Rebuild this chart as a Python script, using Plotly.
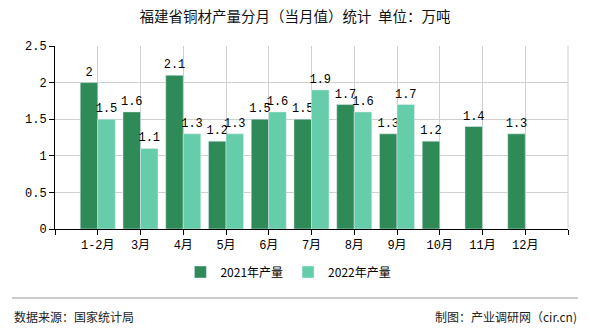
import plotly.graph_objects as go

months = ["1-2月", "3月", "4月", "5月", "6月", "7月", "8月", "9月", "10月", "11月", "12月"]
prod_2021 = [2, 1.6, 2.1, 1.2, 1.5, 1.5, 1.7, 1.3, 1.2, 1.4, 1.3]
prod_2022 = [1.5, 1.1, 1.3, 1.3, 1.6, 1.9, 1.6, 1.7, None, None, None]
series_names = ["2021年产量", "2022年产量"]
title_text = "福建省铜材产量分月（当月值）统计  单位：万吨"
source_text = "数据来源：国家统计局"
credit_text = "制图：产业调研网（cir.cn)"

xs = list(range(len(months)))
mono = "Liberation Mono, Noto Sans CJK SC, monospace"

def lbl(v):
    if v is None:
        return ""
    return ("%g" % v)

fig = go.Figure()
fig.add_trace(go.Bar(
    x=xs, y=prod_2021, name=series_names[0], marker_color="#2E8B57",
    text=[lbl(v) for v in prod_2021], textposition="outside", constraintext="none",
    textfont=dict(family=mono, size=12, color="#000"), cliponaxis=False,
))
fig.add_trace(go.Bar(
    x=xs, y=prod_2022, name=series_names[1], marker_color="#66CDAA",
    text=[lbl(v) for v in prod_2022], textposition="outside", constraintext="none",
    textfont=dict(family=mono, size=12, color="#000"), cliponaxis=False,
))

W, H = 590, 330
L, R, T, B = 55, 568, 46, 229
pw, ph = R - L, B - T

def px(x):
    return (x - L) / pw

def py(y):
    return (B - y) / ph

fig.update_layout(
    width=W, height=H,
    margin=dict(l=L, r=W - R, t=T, b=H - B),
    paper_bgcolor="white", plot_bgcolor="white",
    barmode="group", bargap=0.18, bargroupgap=0,
    title=dict(text=title_text, x=0.5, xanchor="center", y=1 - 17 / H, yanchor="middle",
               font=dict(family="Noto Sans CJK SC", size=14.5, color="#111")),
    legend=dict(orientation="h", x=0.455, xanchor="center", y=py(272), yanchor="middle",
                font=dict(family="Noto Sans CJK SC", size=12, color="#000"),
                itemwidth=30, bgcolor="rgba(0,0,0,0)"),
    showlegend=True,
    font=dict(family=mono, size=12, color="#000"),
)
fig.update_xaxes(
    range=[-1, len(months)],
    tickmode="array",
    tickvals=list(range(-1, len(months) + 1)),
    ticktext=[""] + months + [""],
    showgrid=True, gridcolor="#d0d0d0", gridwidth=1,
    showline=True, linecolor="#000", linewidth=1,
    ticks="outside", ticklen=5, tickcolor="#000",
    tickfont=dict(family=mono, size=12, color="#000"),
    zeroline=False,
)
fig.update_yaxes(
    range=[0, 2.5], dtick=0.5,
    showgrid=True, gridcolor="#d0d0d0", gridwidth=1,
    showline=True, linecolor="#000", linewidth=1,
    ticks="outside", ticklen=5, tickcolor="#000",
    tickfont=dict(family=mono, size=12, color="#000"),
    zeroline=False,
)
# right border line
fig.add_shape(type="line", xref="paper", yref="paper", x0=1, x1=1, y0=0, y1=1,
              line=dict(color="#d0d0d0", width=1))
# footer separator
fig.add_shape(type="line", xref="paper", yref="paper", x0=px(12), x1=px(578),
              y0=py(298), y1=py(298), line=dict(color="#999", width=1))
fig.add_annotation(text=source_text, xref="paper", yref="paper", x=px(12), y=py(316),
                   xanchor="left", yanchor="middle", showarrow=False,
                   font=dict(family="Noto Sans CJK SC", size=12, color="#222"))
fig.add_annotation(text=credit_text, xref="paper", yref="paper", x=px(579), y=py(316),
                   xanchor="right", yanchor="middle", showarrow=False,
                   font=dict(family="Noto Sans CJK SC", size=12, color="#222"))

fig.write_html("out.html")
